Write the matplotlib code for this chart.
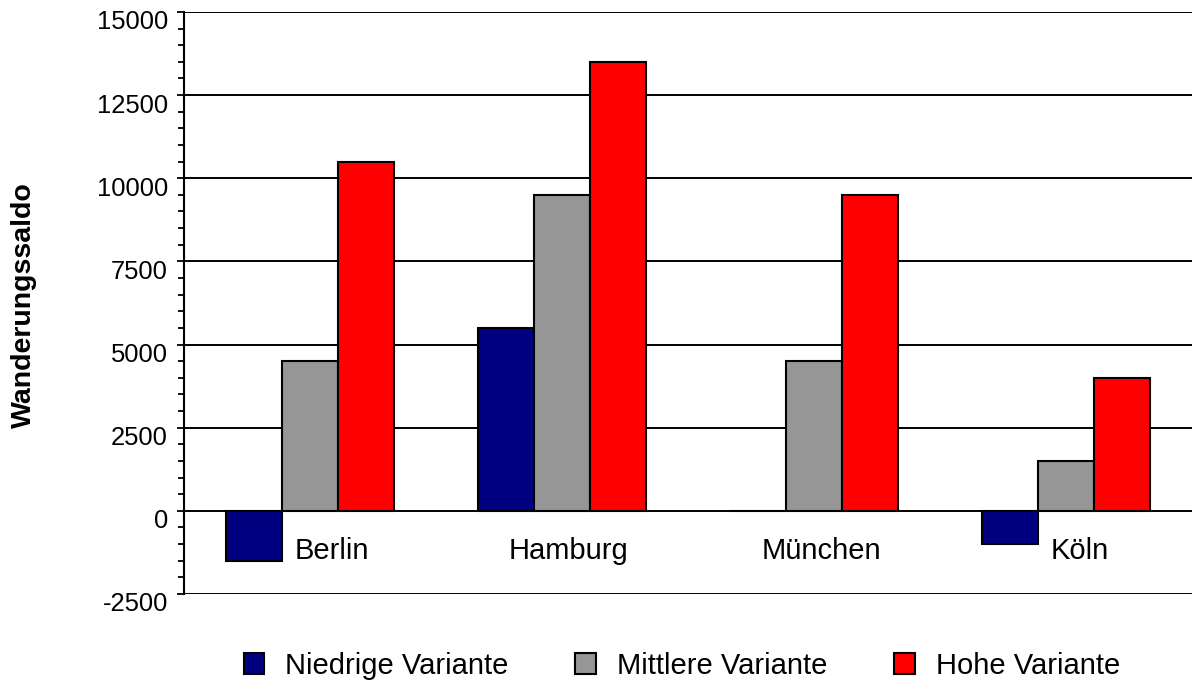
import matplotlib
matplotlib.use("Agg")
import matplotlib.pyplot as plt
from matplotlib.ticker import MultipleLocator
from matplotlib.patches import Patch
import matplotlib.transforms as mtransforms
import numpy as np

plt.rcParams['font.family'] = ['Liberation Sans', 'DejaVu Sans']
plt.rcParams['axes.unicode_minus'] = False

cities = ['Berlin', 'Hamburg', 'München', 'Köln']
niedrig = [-1500, 5500, 0, -1000]
mittel = [4500, 9500, 4500, 1500]
hoch = [10500, 13500, 9500, 4000]
variants = ['Niedrige Variante', 'Mittlere Variante', 'Hohe Variante']
colors = ['#000080', '#969696', '#ff0000']
# label shift (category units) as placed in the original
label_shift = [0.087, 0.024, 0.028, 0.056]

fig = plt.figure(figsize=(11.92, 6.84), dpi=100)
ax = fig.add_axes([0.1544, 0.1316, 0.8456, 0.851])

x = np.arange(len(cities))
w = 0.222
for i, (vals, col) in enumerate(zip([niedrig, mittel, hoch], colors)):
    ax.bar(x + (i - 1) * w, vals, w, color=col, edgecolor='black',
           linewidth=1.5, zorder=3)

ax.set_xlim(-0.5, 3.5)
ax.set_ylim(-2500, 15000)
ax.yaxis.set_major_locator(MultipleLocator(2500))
ax.yaxis.set_minor_locator(MultipleLocator(500))
ax.grid(axis='y', which='major', color='black', linewidth=1.4, zorder=1)
ax.set_xticks([])
for s in ['top', 'right', 'bottom']:
    ax.spines[s].set_visible(False)
ax.spines['left'].set_linewidth(1.5)
ax.tick_params(axis='y', which='major', length=5, width=1.3, labelsize=18.4, pad=6.5)
ax.tick_params(axis='y', which='minor', length=4, width=1.3)

# labels sit a little below their ticks in the original
shift = mtransforms.ScaledTranslation(0, -0.08, fig.dpi_scale_trans)
for lab in ax.get_yticklabels():
    lab.set_transform(lab.get_transform() + shift)

for i, c in enumerate(cities):
    ax.text(i + label_shift[i], -1200, c, ha='center', va='center', fontsize=21)

fig.text(0.02, 0.554, 'Wanderungssaldo', rotation=90, ha='center', va='center',
         fontsize=20.5, fontweight='bold')

handles = [Patch(facecolor=c, edgecolor='black', linewidth=1.5) for c in colors]
fig.legend(handles, variants, loc='center', bbox_to_anchor=(0.572, 0.027),
           ncol=3, frameon=False, fontsize=21, handlelength=0.7, handleheight=0.7,
           handletextpad=0.72, columnspacing=2.3)

fig.savefig('out.png', dpi=100)
